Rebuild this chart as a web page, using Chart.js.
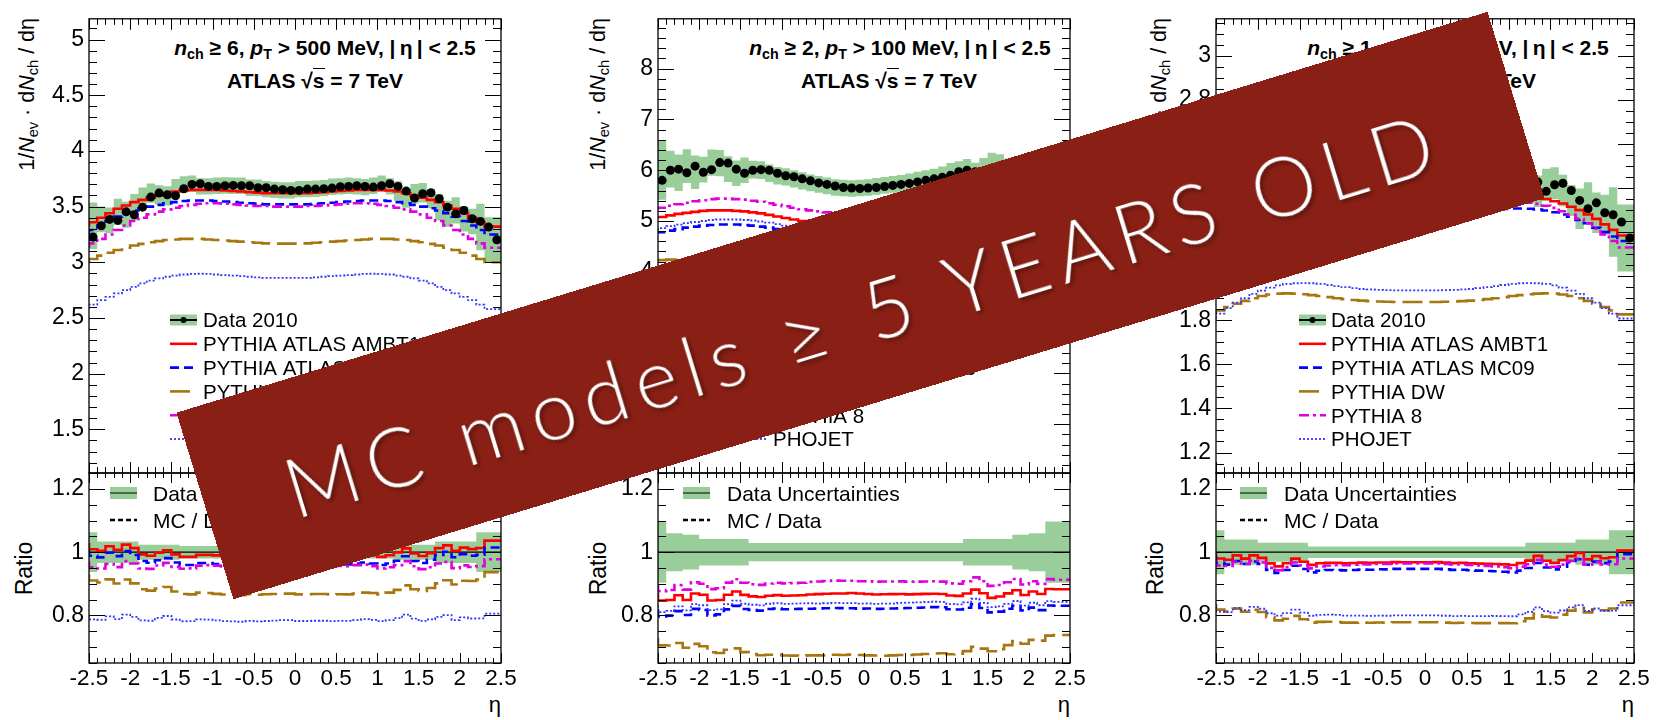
<!DOCTYPE html>
<html lang="en">
<head>
<meta charset="utf-8">
<title>Charged-particle pseudorapidity distributions, ATLAS 7 TeV</title>
<script src="https://cdn.jsdelivr.net/npm/chart.js@4.4.1/dist/chart.umd.min.js"></script>
<style>
  html, body { margin: 0; padding: 0; background: #fff; }
  #stage { position: relative; width: 1680px; height: 720px; overflow: hidden; background: #fff; }
  #stage canvas { position: absolute; top: 0; }
  .txt { position: absolute; font-family: 'Liberation Sans', Arial, Helvetica, sans-serif; color: #000; white-space: nowrap; }
  .title { font-weight: bold; font-size: 21px; line-height: 21px; text-align: center; width: 400px; }
  .title sub, .ytitle sub { font-size: 0.68em; vertical-align: -0.3em; line-height: 0; }
  .sqrt-arg { border-top: 1.6px solid #000; }
  .ytitle { top: 18px; font-size: 21.5px; line-height: 24px; transform-origin: 100% 0; transform: rotate(-90deg); }
  .rtitle { top: 473px; width: 40px; height: 190px; display: flex; align-items: center; justify-content: center; font-size: 23px; }
  .rtitle span { display: inline-block; transform: rotate(-90deg); }
  .etatitle { top: 692px; font-size: 22px; line-height: 26px; }
  #banner {
    position: absolute; left: 174.5px; top: 208px; width: 1371px; height: 195px; box-sizing: border-box;
    padding-top: 14px;
    background: #8a2015; transform: rotate(-17deg);
    display: flex; align-items: center; justify-content: center;
    color: #fff; font-family: Lato, 'Open Sans', sans-serif; font-size: 82px; font-weight: 300;
    letter-spacing: 9px; white-space: nowrap; z-index: 10;
    text-shadow: 2px 3px 4px rgba(0, 0, 0, 0.4);
  }
</style>
</head>
<body>
<div id="stage">
  <!-- panel titles -->
  <div class="txt title" style="left:125px;top:37px"><i>n</i><sub>ch</sub> ≥ 6, <i>p</i><sub>T</sub> &gt; 500 MeV, |&thinsp;η&thinsp;| &lt; 2.5</div>
  <div class="txt title" style="left:115px;top:70px">ATLAS √<span class="sqrt-arg">s</span> = 7 TeV</div>
  <div class="txt title" style="left:700px;top:37px"><i>n</i><sub>ch</sub> ≥ 2, <i>p</i><sub>T</sub> &gt; 100 MeV, |&thinsp;η&thinsp;| &lt; 2.5</div>
  <div class="txt title" style="left:689px;top:70px">ATLAS √<span class="sqrt-arg">s</span> = 7 TeV</div>
  <div class="txt title" style="left:1258px;top:37px"><i>n</i><sub>ch</sub> ≥ 1, <i>p</i><sub>T</sub> &gt; 500 MeV, |&thinsp;η&thinsp;| &lt; 2.5</div>
  <div class="txt title" style="left:1248px;top:70px">ATLAS √<span class="sqrt-arg">s</span> = 7 TeV</div>

  <!-- axis titles -->
  <div class="txt ytitle" style="right:1665px">1/<i>N</i><sub>ev</sub> · d<i>N</i><sub>ch</sub> / dη</div>
  <div class="txt ytitle" style="right:1094px">1/<i>N</i><sub>ev</sub> · d<i>N</i><sub>ch</sub> / dη</div>
  <div class="txt ytitle" style="right:533px">1/<i>N</i><sub>ev</sub> · d<i>N</i><sub>ch</sub> / dη</div>
  <div class="txt rtitle" style="left:5px"><span>Ratio</span></div>
  <div class="txt rtitle" style="left:579px"><span>Ratio</span></div>
  <div class="txt rtitle" style="left:1136px"><span>Ratio</span></div>
  <div class="txt etatitle" style="right:1179px">η</div>
  <div class="txt etatitle" style="right:610px">η</div>
  <div class="txt etatitle" style="right:46px">η</div>

  <div id="banner">MC models ≥ 5 YEARS OLD</div>
</div>

<script>
// ---- binning and tick labels ----
const etaEdges = [-2.5,-2.4,-2.3,-2.2,-2.1,-2.0,-1.9,-1.8,-1.7,-1.6,-1.5,-1.4,-1.3,-1.2,-1.1,-1.0,-0.9,-0.8,-0.7,-0.6,-0.5,-0.4,-0.3,-0.2,-0.1,
                  0.0,0.1,0.2,0.3,0.4,0.5,0.6,0.7,0.8,0.9,1.0,1.1,1.2,1.3,1.4,1.5,1.6,1.7,1.8,1.9,2.0,2.1,2.2,2.3,2.4,2.5];
const etaTickValues = [-2.5,-2,-1.5,-1,-0.5,0,0.5,1,1.5,2,2.5];
const etaTickLabels = ['-2.5','-2','-1.5','-1','-0.5','0','0.5','1','1.5','2','2.5'];
const ratioTickValues = [0.8,1.0,1.2];
const ratioTickLabels = ['0.8','1','1.2'];
const ratioReference = 1;

// ---- panel 1: nch >= 6, pT > 500 MeV ----
const p1TickValues = [1.5,2,2.5,3,3.5,4,4.5,5];
const p1TickLabels = ['1.5','2','2.5','3','3.5','4','4.5','5'];
const p1Data = [3.226,3.328,3.385,3.376,3.453,3.427,3.495,3.585,3.621,3.606,3.597,3.660,3.699,3.705,3.681,3.681,3.687,3.690,3.687,3.687,3.669,3.669,3.657,3.651,3.645,
                3.645,3.657,3.657,3.660,3.666,3.678,3.681,3.687,3.681,3.675,3.687,3.705,3.681,3.639,3.576,3.615,3.624,3.570,3.495,3.435,3.465,3.391,3.367,3.316,3.202];
const p1RelUnc = [0.063,0.063,0.034,0.034,0.034,0.034,0.034,0.024,0.024,0.024,0.024,0.024,0.02,0.02,0.02,0.02,0.02,0.02,0.02,0.02,0.02,0.02,0.02,0.02,0.02,
                  0.02,0.02,0.02,0.02,0.02,0.02,0.02,0.02,0.02,0.02,0.02,0.02,0.02,0.024,0.024,0.024,0.024,0.024,0.034,0.034,0.034,0.034,0.034,0.063,0.063];
const p1Ambt1 = [3.32,3.36,3.40,3.44,3.48,3.51,3.54,3.56,3.58,3.60,3.62,3.635,3.645,3.65,3.65,3.65,3.65,3.645,3.64,3.635,3.63,3.625,3.62,3.62,3.62,
                 3.62,3.62,3.62,3.625,3.63,3.635,3.64,3.645,3.65,3.65,3.65,3.65,3.645,3.635,3.62,3.60,3.58,3.56,3.54,3.51,3.48,3.44,3.40,3.36,3.32];
const p1Mc09 = [3.25,3.29,3.33,3.37,3.41,3.44,3.465,3.485,3.50,3.515,3.53,3.54,3.55,3.555,3.555,3.555,3.55,3.545,3.54,3.535,3.53,3.525,3.52,3.52,3.52,
                3.52,3.52,3.52,3.525,3.53,3.535,3.54,3.545,3.55,3.555,3.555,3.555,3.55,3.54,3.53,3.515,3.50,3.485,3.465,3.44,3.41,3.37,3.33,3.29,3.25];
const p1Dw = [3.00,3.03,3.06,3.085,3.11,3.13,3.15,3.165,3.18,3.19,3.20,3.205,3.21,3.21,3.21,3.205,3.20,3.195,3.19,3.185,3.18,3.175,3.17,3.168,3.167,
              3.167,3.168,3.17,3.175,3.18,3.185,3.19,3.195,3.20,3.205,3.21,3.21,3.21,3.205,3.20,3.19,3.18,3.165,3.15,3.13,3.11,3.085,3.06,3.03,3.00];
const p1Py8 = [3.13,3.17,3.21,3.25,3.29,3.33,3.37,3.40,3.43,3.455,3.475,3.49,3.505,3.515,3.525,3.53,3.53,3.525,3.52,3.515,3.51,3.505,3.505,3.50,3.50,
               3.50,3.50,3.505,3.505,3.51,3.515,3.52,3.525,3.53,3.53,3.525,3.515,3.505,3.49,3.475,3.455,3.43,3.40,3.37,3.33,3.29,3.25,3.21,3.17,3.13];
const p1Phojet = [2.58,2.62,2.66,2.69,2.72,2.75,2.78,2.81,2.835,2.855,2.87,2.88,2.89,2.895,2.897,2.895,2.89,2.885,2.88,2.875,2.87,2.865,2.86,2.86,2.86,
                  2.86,2.86,2.86,2.865,2.87,2.875,2.88,2.885,2.89,2.895,2.897,2.895,2.89,2.88,2.87,2.855,2.835,2.81,2.78,2.75,2.72,2.69,2.66,2.62,2.58];

// ---- panel 2: nch >= 2, pT > 100 MeV ----
const p2TickValues = [1,2,3,4,5,6,7,8];
const p2TickLabels = ['1','2','3','4','5','6','7','8'];
const p2Data = [5.80,6.00,6.02,5.95,6.08,5.96,6.01,6.15,6.14,6.02,5.94,6.00,6.01,6.00,5.94,5.89,5.87,5.83,5.79,5.75,5.72,5.69,5.66,5.65,5.64,
                5.65,5.66,5.68,5.70,5.72,5.74,5.77,5.80,5.83,5.86,5.90,5.97,6.00,5.97,5.90,5.99,6.09,6.06,5.98,5.89,5.97,5.87,5.89,5.75,5.72];
const p2RelUnc = [0.097,0.097,0.06,0.06,0.055,0.055,0.042,0.042,0.042,0.042,0.042,0.042,0.029,0.029,0.029,0.029,0.029,0.029,0.029,0.029,0.029,0.029,0.029,0.029,0.029,
                  0.029,0.029,0.029,0.029,0.029,0.029,0.029,0.029,0.029,0.029,0.029,0.029,0.029,0.042,0.042,0.042,0.042,0.042,0.042,0.055,0.055,0.06,0.06,0.097,0.097];
const p2Ambt1 = [5.05,5.08,5.11,5.14,5.16,5.18,5.20,5.21,5.21,5.21,5.20,5.19,5.17,5.15,5.12,5.09,5.06,5.03,5.00,4.98,4.96,4.94,4.92,4.91,4.91,
                 4.91,4.91,4.92,4.94,4.96,4.98,5.00,5.03,5.06,5.09,5.12,5.15,5.17,5.19,5.20,5.21,5.21,5.21,5.20,5.18,5.16,5.14,5.11,5.08,5.05];
const p2Mc09 = [4.75,4.78,4.81,4.84,4.87,4.89,4.91,4.92,4.93,4.93,4.93,4.92,4.91,4.89,4.87,4.84,4.81,4.78,4.75,4.72,4.70,4.68,4.66,4.65,4.64,
                4.64,4.65,4.66,4.68,4.70,4.72,4.75,4.78,4.81,4.84,4.87,4.89,4.91,4.92,4.93,4.93,4.93,4.92,4.91,4.89,4.87,4.84,4.81,4.78,4.75];
const p2Dw = [4.22,4.23,4.24,4.24,4.24,4.23,4.22,4.20,4.18,4.16,4.13,4.10,4.07,4.04,4.01,3.98,3.95,3.92,3.89,3.87,3.85,3.83,3.82,3.81,3.81,
              3.81,3.81,3.82,3.83,3.85,3.87,3.89,3.92,3.95,3.98,4.01,4.04,4.07,4.10,4.13,4.16,4.18,4.20,4.22,4.23,4.24,4.24,4.24,4.23,4.22];
const p2Py8 = [5.22,5.26,5.30,5.33,5.36,5.39,5.41,5.43,5.44,5.44,5.43,5.42,5.40,5.38,5.35,5.32,5.29,5.26,5.23,5.21,5.19,5.17,5.15,5.14,5.13,
               5.13,5.14,5.15,5.17,5.19,5.21,5.23,5.26,5.29,5.32,5.35,5.38,5.40,5.42,5.43,5.44,5.44,5.43,5.41,5.39,5.36,5.33,5.30,5.26,5.22];
const p2Phojet = [4.82,4.86,4.90,4.93,4.96,4.98,5.00,5.02,5.03,5.03,5.03,5.02,5.01,4.99,4.97,4.94,4.91,4.88,4.85,4.82,4.79,4.77,4.75,4.74,4.73,
                  4.73,4.74,4.75,4.77,4.79,4.82,4.85,4.88,4.91,4.94,4.97,4.99,5.01,5.02,5.03,5.03,5.03,5.02,5.00,4.98,4.96,4.93,4.90,4.86,4.82];

// ---- panel 3: nch >= 1, pT > 500 MeV ----
const p3TickValues = [1.2,1.4,1.6,1.8,2.0,2.2,2.4,2.6,2.8,3.0];
const p3TickLabels = ['1.2','1.4','1.6','1.8','2','2.2','2.4','2.6','2.8','3'];
const p3Data = [2.185,2.255,2.29,2.283,2.327,2.323,2.357,2.415,2.45,2.435,2.406,2.435,2.464,2.451,2.443,2.44,2.44,2.435,2.43,2.43,2.425,2.425,2.42,2.42,2.42,
                2.42,2.42,2.42,2.425,2.43,2.43,2.435,2.44,2.445,2.45,2.457,2.465,2.45,2.427,2.385,2.415,2.422,2.389,2.344,2.306,2.333,2.288,2.279,2.246,2.173];
const p3RelUnc = [0.07,0.07,0.04,0.04,0.04,0.04,0.03,0.03,0.03,0.03,0.03,0.03,0.018,0.018,0.018,0.018,0.018,0.018,0.018,0.018,0.018,0.018,0.018,0.018,0.018,
                  0.018,0.018,0.018,0.018,0.018,0.018,0.018,0.018,0.018,0.018,0.018,0.018,0.018,0.03,0.03,0.03,0.03,0.03,0.03,0.04,0.04,0.04,0.04,0.07,0.07];
const p3Ambt1 = [2.185,2.21,2.235,2.26,2.28,2.30,2.315,2.33,2.34,2.35,2.357,2.362,2.365,2.365,2.362,2.358,2.355,2.352,2.35,2.348,2.346,2.345,2.344,2.343,2.343,
                 2.343,2.343,2.344,2.345,2.346,2.348,2.35,2.352,2.355,2.358,2.362,2.365,2.365,2.362,2.357,2.35,2.34,2.33,2.315,2.30,2.28,2.26,2.235,2.21,2.185];
const p3Mc09 = [2.16,2.18,2.20,2.22,2.24,2.255,2.27,2.28,2.29,2.298,2.303,2.306,2.307,2.307,2.305,2.302,2.30,2.298,2.296,2.295,2.294,2.293,2.292,2.292,2.292,
                2.292,2.292,2.292,2.293,2.294,2.295,2.296,2.298,2.30,2.302,2.305,2.307,2.307,2.306,2.303,2.298,2.29,2.28,2.27,2.255,2.24,2.22,2.20,2.18,2.16];
const p3Dw = [1.827,1.845,1.86,1.875,1.888,1.90,1.91,1.917,1.921,1.922,1.921,1.918,1.914,1.91,1.905,1.90,1.896,1.892,1.889,1.887,1.885,1.884,1.883,1.883,1.883,
              1.883,1.883,1.883,1.884,1.885,1.887,1.889,1.892,1.896,1.90,1.905,1.91,1.914,1.918,1.921,1.922,1.921,1.917,1.91,1.90,1.888,1.875,1.86,1.845,1.827];
const p3Py8 = [2.13,2.16,2.19,2.215,2.24,2.26,2.28,2.295,2.31,2.32,2.328,2.334,2.338,2.34,2.34,2.34,2.339,2.338,2.337,2.336,2.335,2.334,2.334,2.334,2.334,
               2.334,2.334,2.334,2.334,2.335,2.336,2.337,2.338,2.339,2.34,2.34,2.34,2.338,2.334,2.328,2.32,2.31,2.295,2.28,2.26,2.24,2.215,2.19,2.16,2.13];
const p3Phojet = [1.808,1.83,1.855,1.88,1.90,1.92,1.935,1.948,1.958,1.965,1.968,1.969,1.968,1.965,1.96,1.955,1.95,1.946,1.942,1.94,1.938,1.937,1.936,1.936,1.936,
                  1.936,1.936,1.936,1.937,1.938,1.94,1.942,1.946,1.95,1.955,1.96,1.965,1.968,1.969,1.968,1.965,1.958,1.948,1.935,1.92,1.90,1.88,1.855,1.83,1.808];

// ---- styles ----
const FONT = "'Liberation Sans', Arial, Helvetica, sans-serif";
const BAND = 'rgb(153, 205, 153)';
const mcStyles = [
  { label: 'PYTHIA ATLAS AMBT1', color: '#ff0000', dash: [],            width: 2.6 },
  { label: 'PYTHIA ATLAS MC09',  color: '#0000ff', dash: [9, 5],        width: 2.6 },
  { label: 'PYTHIA DW',          color: '#a8760e', dash: [20, 7],       width: 2.6 },
  { label: 'PYTHIA 8',           color: '#e000e0', dash: [10, 4, 3, 4], width: 2.6 },
  { label: 'PHOJET',             color: '#3333ff', dash: [2, 2],        width: 1.8 }
];

const TOP = 18, MID = 473, BOT = 663;
const panels = [
  { col: 0,    left: 89,   right: 501,  yMin: 1.108, yMax: 5.186, yMajor: 0.5, yMinor: 0.1,
    ticks: [p1TickValues, p1TickLabels], data: p1Data, unc: p1RelUnc, mc: [p1Ambt1, p1Mc09, p1Dw, p1Py8, p1Phojet],
    legend: { x: 170, tx: 203 }, rlegend: { x: 110, tx: 153 } },
  { col: 560,  left: 658,  right: 1070, yMin: 0.04, yMax: 8.98, yMajor: 1, yMinor: 0.2,
    ticks: [p2TickValues, p2TickLabels], data: p2Data, unc: p2RelUnc, mc: [p2Ambt1, p2Mc09, p2Dw, p2Py8, p2Phojet],
    legend: { x: 740, tx: 773 }, rlegend: { x: 683, tx: 727 } },
  { col: 1120, left: 1216, right: 1634, yMin: 1.107, yMax: 3.168, yMajor: 0.2, yMinor: 0.05,
    ticks: [p3TickValues, p3TickLabels], data: p3Data, unc: p3RelUnc, mc: [p3Ambt1, p3Mc09, p3Dw, p3Py8, p3Phojet],
    legend: { x: 1299, tx: 1331 }, rlegend: { x: 1240, tx: 1284 } }
];

// histogram outline: one point per bin edge, drawn with 'after' steps
function histPoints(vals) {
  return etaEdges.map((e, i) => ({ x: e, y: vals[Math.min(i, vals.length - 1)] }));
}
function centerPoints(vals) {
  return vals.map((v, i) => ({ x: (etaEdges[i] + etaEdges[i + 1]) / 2, y: v }));
}
function labelFor(v, vals, labels) {
  const i = vals.findIndex(t => Math.abs(t - v) < 1e-6);
  return i < 0 ? '' : labels[i];
}

// frame with inward major/minor ticks on all four sides
const rootFrame = {
  id: 'rootFrame',
  afterDatasetsDraw(chart, args, o) {
    const { ctx, chartArea: a } = chart;
    const xs = chart.scales.x, ys = chart.scales.y;
    ctx.save();
    ctx.strokeStyle = '#000';
    ctx.lineWidth = 1;
    ctx.beginPath();
    const nx = Math.round((xs.max - xs.min) / o.xMinor);
    for (let i = 0; i <= nx; i++) {
      const v = xs.min + i * o.xMinor;
      const major = Math.abs(v / o.xMajor - Math.round(v / o.xMajor)) < 1e-6;
      const px = Math.round(xs.getPixelForValue(v)) + 0.5;
      const L = major ? o.xMajLen : o.xMinLen;
      ctx.moveTo(px, a.bottom); ctx.lineTo(px, a.bottom - L);
      ctx.moveTo(px, a.top); ctx.lineTo(px, a.top + L);
    }
    const k0 = Math.ceil(ys.min / o.yMinor - 1e-6), k1 = Math.floor(ys.max / o.yMinor + 1e-6);
    for (let k = k0; k <= k1; k++) {
      const v = k * o.yMinor;
      const major = Math.abs(v / o.yMajor - Math.round(v / o.yMajor)) < 1e-6;
      const py = Math.round(ys.getPixelForValue(v)) + 0.5;
      const L = major ? o.yMajLen : o.yMinLen;
      ctx.moveTo(a.left, py); ctx.lineTo(a.left + L, py);
      ctx.moveTo(a.right, py); ctx.lineTo(a.right - L, py);
    }
    ctx.stroke();
    ctx.lineWidth = 1.3;
    ctx.strokeRect(a.left, a.top, a.right - a.left, a.bottom - a.top);
    ctx.restore();
  }
};

// legend drawn inside the pad, ROOT style (x positions given in page pixels)
const rootLegend = {
  id: 'rootLegend',
  afterDatasetsDraw(chart, args, o) {
    if (!o.items) return;
    const ctx = chart.ctx;
    ctx.save();
    ctx.translate(-o.col, 0);
    ctx.font = o.size + 'px ' + FONT;
    ctx.textBaseline = 'alphabetic';
    o.items.forEach((it, i) => {
      const y = o.y + i * o.dy;
      const x0 = o.x, x1 = o.x + o.w;
      if (it.box) {
        ctx.fillStyle = BAND;
        ctx.fillRect(x0, y - o.boxH / 2, o.w, o.boxH);
      }
      ctx.strokeStyle = it.color;
      ctx.lineWidth = it.width;
      ctx.setLineDash(it.dash || []);
      ctx.beginPath(); ctx.moveTo(x0, y); ctx.lineTo(x1, y); ctx.stroke();
      ctx.setLineDash([]);
      if (it.dot) {
        ctx.fillStyle = '#000';
        ctx.beginPath(); ctx.arc((x0 + x1) / 2, y, it.dot, 0, Math.PI * 2); ctx.fill();
      }
      ctx.fillStyle = '#000';
      ctx.fillText(it.label, o.tx, y + o.size * 0.36);
    });
    ctx.restore();
  }
};

const stage = document.getElementById('stage');
function makeCanvas(col) {
  const cv = document.createElement('canvas');
  cv.width = 560; cv.height = 720;
  cv.style.left = col + 'px';
  stage.insertBefore(cv, document.getElementById('banner'));
  return cv;
}

function yScale(p, min, max, major, tickVals, tickLabels) {
  return {
    type: 'linear', min, max,
    afterFit: s => { s.width = p.left - p.col; },
    grid: { display: false, drawTicks: false }, border: { display: false },
    ticks: { stepSize: major, includeBounds: false, padding: 5, color: '#000', autoSkip: false,
             font: { family: FONT, size: 23 },
             callback: v => labelFor(v, tickVals, tickLabels) }
  };
}

const topLegendItems = [
  { label: 'Data 2010', box: true, color: '#000', width: 2, dot: 3 },
  ...mcStyles.map(s => ({ label: s.label, color: s.color, dash: s.dash, width: s.width }))
];
const ratioLegendItems = [
  { label: 'Data Uncertainties', box: true, color: '#000', width: 1 },
  { label: 'MC / Data', color: '#000', dash: [5, 3], width: 2.5 }
];

panels.forEach(p => {
  // upper pad: distributions
  const up = p.data.map((d, i) => d * (1 + p.unc[i]));
  const lo = p.data.map((d, i) => d * (1 - p.unc[i]));
  const topSets = [
    { data: histPoints(lo), stepped: 'after', borderWidth: 0, pointRadius: 0, fill: false, order: 20 },
    { data: histPoints(up), stepped: 'after', borderWidth: 0, pointRadius: 0, fill: '-1', backgroundColor: BAND, order: 19 },
    ...p.mc.map((vals, k) => ({
      data: histPoints(vals), stepped: 'after', borderColor: mcStyles[k].color, borderWidth: mcStyles[k].width,
      borderDash: mcStyles[k].dash, pointRadius: 0, fill: false, order: 10 - k
    })),
    { data: centerPoints(p.data), showLine: false, pointRadius: 4.5, pointBackgroundColor: '#000',
      pointBorderWidth: 0, order: 0 }
  ];
  new Chart(makeCanvas(p.col), {
    type: 'line',
    data: { datasets: topSets },
    options: {
      responsive: false, animation: false, events: [],
      layout: { padding: { left: 0, right: p.col + 560 - p.right, top: TOP, bottom: 720 - MID } },
      scales: {
        x: { type: 'linear', min: -2.5, max: 2.5, display: false },
        y: yScale(p, p.yMin, p.yMax, p.yMajor, p.ticks[0], p.ticks[1])
      },
      plugins: {
        legend: { display: false }, tooltip: { enabled: false },
        rootFrame: { xMajor: 0.5, xMinor: 0.1, xMajLen: 11, xMinLen: 6, yMajor: p.yMajor, yMinor: p.yMinor, yMajLen: 16, yMinLen: 8 },
        rootLegend: { items: topLegendItems, col: p.col, x: p.legend.x, tx: p.legend.tx, w: 27, boxH: 11, y: 320, dy: 23.8, size: 20.5 }
      }
    },
    plugins: [rootFrame, rootLegend]
  });

  // lower pad: MC / Data
  const rUp = p.unc.map(u => 1 + u), rLo = p.unc.map(u => 1 - u);
  const ratioSets = [
    { data: histPoints(rLo), stepped: 'after', borderWidth: 0, pointRadius: 0, fill: false, order: 20 },
    { data: histPoints(rUp), stepped: 'after', borderWidth: 0, pointRadius: 0, fill: '-1', backgroundColor: BAND, order: 19 },
    { data: [{ x: etaEdges[0], y: ratioReference }, { x: etaEdges[etaEdges.length - 1], y: ratioReference }],
      borderColor: '#000', borderWidth: 1.2, pointRadius: 0, fill: false, order: 15 },
    ...p.mc.map((vals, k) => ({
      data: histPoints(vals.map((m, i) => m / p.data[i])), stepped: 'after', borderColor: mcStyles[k].color,
      borderWidth: mcStyles[k].width, borderDash: mcStyles[k].dash, pointRadius: 0, fill: false, order: 10 - k
    }))
  ];
  new Chart(makeCanvas(p.col), {
    type: 'line',
    data: { datasets: ratioSets },
    options: {
      responsive: false, animation: false, events: [],
      layout: { padding: { left: 0, right: p.col + 560 - p.right, top: MID, bottom: 720 - BOT - 30 } },
      scales: {
        x: { type: 'linear', min: -2.5, max: 2.5, afterFit: s => { s.height = 30; },
             grid: { display: false, drawTicks: false }, border: { display: false },
             ticks: { stepSize: 0.5, autoSkip: false, maxRotation: 0, padding: 2, color: '#000',
                      font: { family: FONT, size: 22.5 },
                      callback: v => labelFor(v, etaTickValues, etaTickLabels) } },
        y: yScale(p, 0.649, 1.251, 0.2, ratioTickValues, ratioTickLabels)
      },
      plugins: {
        legend: { display: false }, tooltip: { enabled: false },
        rootFrame: { xMajor: 0.5, xMinor: 0.1, xMajLen: 10, xMinLen: 5, yMajor: 0.2, yMinor: 0.05, yMajLen: 16, yMinLen: 8 },
        rootLegend: { items: ratioLegendItems, col: p.col, x: p.rlegend.x, tx: p.rlegend.tx, w: 27, boxH: 12, y: 493, dy: 27, size: 21 }
      }
    },
    plugins: [rootFrame, rootLegend]
  });
});
</script>
</body>
</html>
